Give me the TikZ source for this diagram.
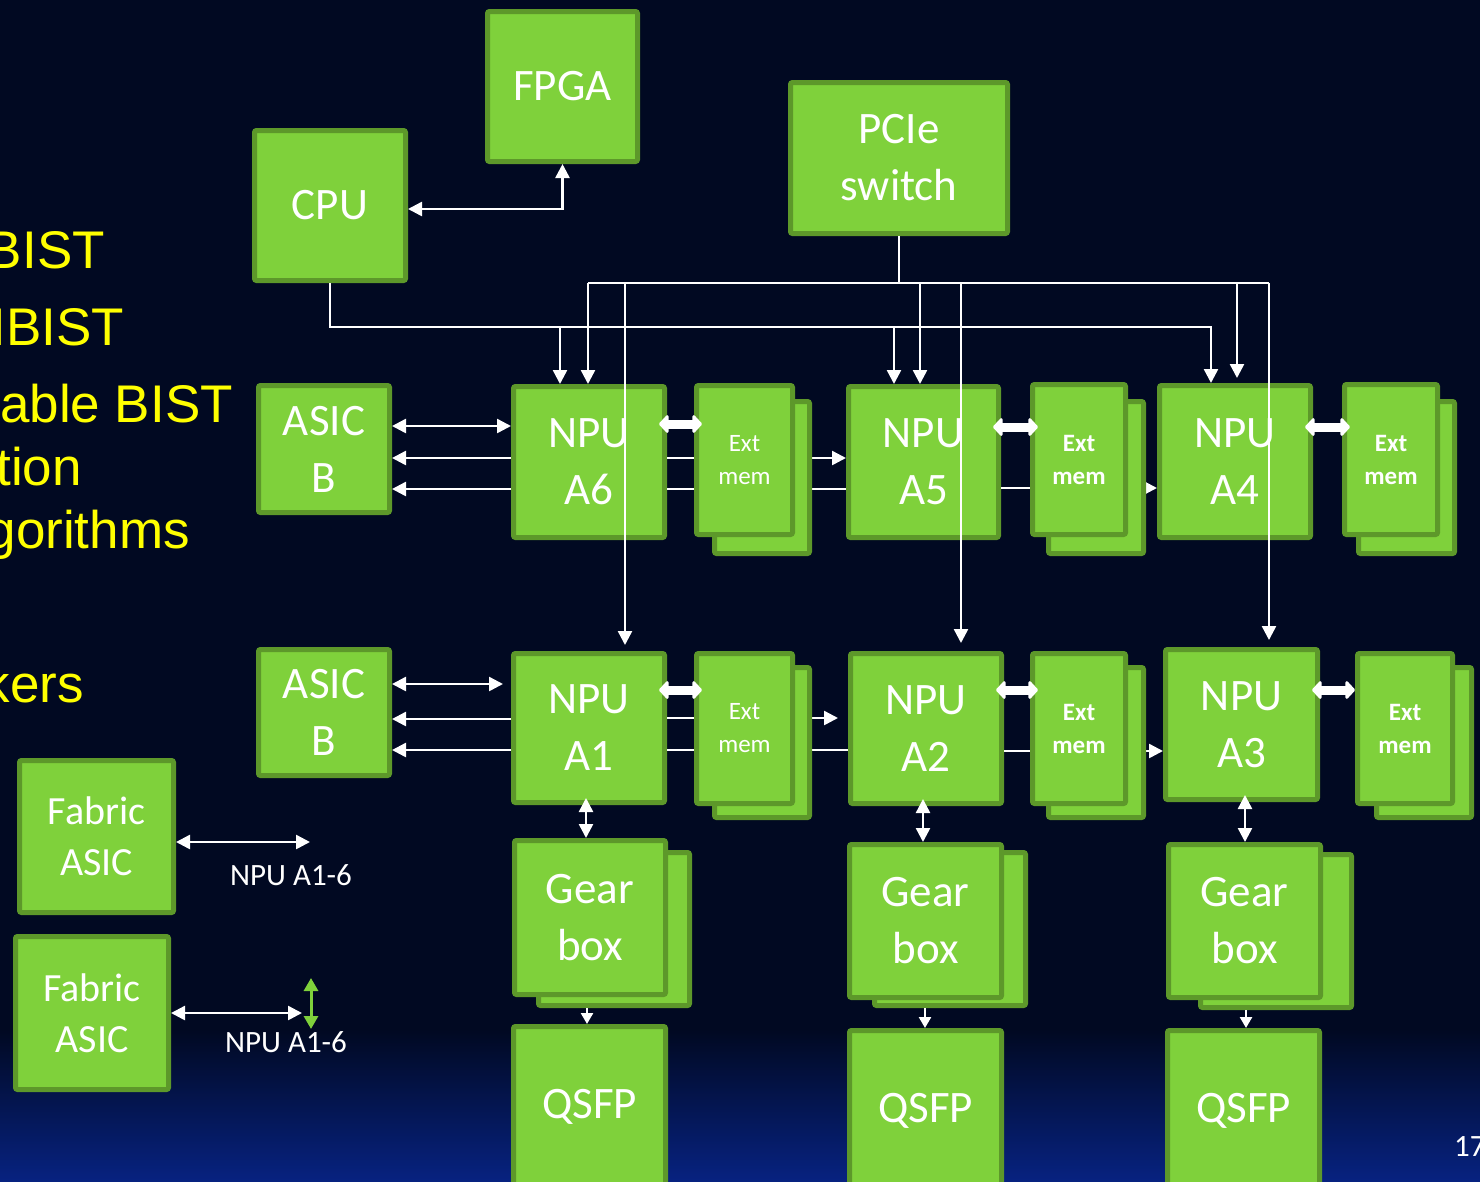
\documentclass[tikz,border=0pt]{standalone}
\usepackage{fontspec}
\setmainfont{Carlito}
\newfontfamily\arialfont{Liberation Sans}
\usetikzlibrary{arrows.meta,calc}

\definecolor{bgnavy}{RGB}{1,9,34}
\definecolor{bgblue}{RGB}{7,34,128}
\definecolor{blkfill}{RGB}{127,209,59}
\definecolor{blkedge}{RGB}{93,152,42}
\definecolor{bistyellow}{RGB}{255,255,0}

\tikzset{
  blk/.style={draw=blkedge, fill=blkfill, line width=5pt, rounded corners=2pt,
    text=white, align=center, inner sep=0pt, font=\fontsize{45}{57}\selectfont},
  sz/.style 2 args={minimum width=#1pt, minimum height=#2pt},
  memreg/.style={font=\fontsize{25}{33}\selectfont},
  membold/.style={font=\fontsize{25}{33}\selectfont\bfseries},
  fabtxt/.style={font=\fontsize{40}{51}\selectfont},
  wire/.style={draw=white, line width=2.5pt},
  fat/.style={draw=white, line width=9pt,
    {Triangle[length=10pt,width=21pt,round]}-{Triangle[length=10pt,width=21pt,round]},
    shorten <=-8pt, shorten >=-8pt},
  smalltip/.style={-{Triangle[length=11pt,width=12pt]}},
  bist/.style={font=\arialfont\fontsize{53}{60}\selectfont, text=bistyellow,
    inner sep=0pt, anchor=base east},
  lbl/.style={font=\fontsize{31}{36}\selectfont, text=white, inner sep=0pt}
}

\begin{document}
\begin{tikzpicture}[x=1pt, y=-1pt, >={Triangle[length=14pt,width=14pt]}]
\useasboundingbox (0,0) rectangle (1480,1181);
% slide background
\fill[bgnavy] (0,0) rectangle (1480,1181);
\shade[top color=bgnavy, bottom color=bgblue] (0,1030) rectangle (1480,1181);

% bullet text running in from the left
\node[bist] (b1) at (105,268) {BIST};
\node[bist] (b2) at (124,345) {IBIST};
\node[bist] (b3) at (233,422) {able BIST};
\node[bist] (b4) at (82,485) {tion};
\node[bist] (b5) at (190,548) {gorithms};
\node[bist] (b6) at (84,702) {kers};

% host side
\node[blk, sz={150}{150}] (fpga) at (562.5,86.5) {FPGA};
\node[blk, sz={151}{150}] (cpu) at (330,205.5) {CPU};
\node[blk, sz={217}{151}] (pcie) at (899,158) {PCIe\\switch};

% ASICs
\node[blk, sz={131}{127}] (asict) at (324,449) {ASIC\\B};
\node[blk, sz={131}{126}] (asicb) at (324,712.5) {ASIC\\B};
\node[blk, fabtxt, sz={154}{152}] (fab1) at (96.5,836.5) {Fabric\\ASIC};
\node[blk, fabtxt, sz={153}{153}] (fab2) at (92,1013) {Fabric\\ASIC};

% NPUs
\node[blk, sz={151}{151}] (a6) at (589,462) {NPU\\A6};
\node[blk, sz={150}{151}] (a5) at (923.5,462) {NPU\\A5};
\node[blk, sz={151}{152}] (a4) at (1235,461.5) {NPU\\A4};
\node[blk, sz={151}{149}] (a1) at (589,728) {NPU\\A1};
\node[blk, sz={151}{150}] (a2) at (926,728.5) {NPU\\A2};
\node[blk, sz={152}{150}] (a3) at (1241.5,724.5) {NPU\\A3};

% gearboxes (stacked pairs) and QSFP cages
\node[blk, sz={151}{153}] (g1b) at (614,929) {};
\node[blk, sz={151}{154}] (g1) at (590,917.5) {Gear\\box};
\node[blk, sz={151}{153}] (g2b) at (950,929) {};
\node[blk, sz={152}{153}] (g2) at (925.5,921) {Gear\\box};
\node[blk, sz={151}{153}] (g3b) at (1276,931) {};
\node[blk, sz={152}{153}] (g3) at (1244.5,921) {Gear\\box};
\node[blk, sz={152}{161}] (q1) at (589.5,1107) {QSFP};
\node[blk, sz={152}{160}] (q2) at (925.5,1110.5) {QSFP};
\node[blk, sz={152}{160}] (q3) at (1243.5,1110.5) {QSFP};

% NPU chain links (pass behind the external memories)
\draw[wire,->] (a6.east |- 0,458) -- (a5.west |- 0,458);
\draw[wire] (a6.east |- 0,489) -- (a5.west |- 0,489);
\draw[wire,->] (a5.east |- 0,488) -- (a4.west |- 0,488);
\draw[wire,->,shorten >=10pt] (a1.east |- 0,718) -- (a2.west |- 0,718);
\draw[wire] (a1.east |- 0,750) -- (a2.west |- 0,750);
\draw[wire,->] (a2.east |- 0,751) -- (a3.west |- 0,751);

% external memories (stacked pairs)
\node[blk, memreg, sz={95}{152}] (m6b) at (762,477.5) {};
\node[blk, memreg, sz={96}{149}] (m6) at (744.5,460) {Ext\\mem};
\node[blk, membold, sz={95}{152}] (m5b) at (1096,477.5) {};
\node[blk, membold, sz={93}{150}] (m5) at (1079,459.5) {Ext\\mem};
\node[blk, membold, sz={96}{152}] (m4b) at (1406.5,477.5) {};
\node[blk, membold, sz={93}{150}] (m4) at (1391,459.5) {Ext\\mem};
\node[blk, memreg, sz={95}{150}] (m1b) at (762,742.5) {};
\node[blk, memreg, sz={96}{150}] (m1) at (744.5,728.5) {Ext\\mem};
\node[blk, membold, sz={95}{150}] (m2b) at (1096,742.5) {};
\node[blk, membold, sz={93}{150}] (m2) at (1079,728.5) {Ext\\mem};
\node[blk, membold, sz={95}{150}] (m3b) at (1424,742.5) {};
\node[blk, membold, sz={95}{150}] (m3) at (1405,728.5) {Ext\\mem};

% NPU <-> external memory
\draw[fat] (a6.east |- 0,424) -- (m6.west |- 0,424);
\draw[fat] (a5.east |- 0,427) -- (m5.west |- 0,427);
\draw[fat] (a4.east |- 0,427) -- (m4.west |- 0,427);
\draw[fat] (a1.east |- 0,690) -- (m1.west |- 0,690);
\draw[fat] (a2.east |- 0,690) -- (m2.west |- 0,690);
\draw[fat, shorten >=0pt] (a3.east |- 0,690) -- (m3.west |- 0,690);

% CPU <-> FPGA
\draw[wire,<->] (cpu.east |- 0,209) -| (fpga.south);

% CPU bus to the upper NPUs
\draw[wire,->] (cpu.south) |- (1211,327) -- (a4.north -| 1211,0);
\draw[wire,->] (560,327) -- (a6.north -| 560,0);
\draw[wire,->] (894,327) -- (a5.north -| 894,0);

% PCIe switch fan-out
\draw[wire] (pcie.south) -- (pcie.south |- 0,283);
\draw[wire] (588,283) -- (1269,283);
\draw[wire,->] (588,283) -- (a6.north -| 588,0);
\draw[wire,->] (920,283) -- (a5.north -| 920,0);
\draw[wire,->,shorten >=5pt] (1237,283) -- (a4.north -| 1237,0);
\draw[wire,->,shorten >=6pt] (625,283) -- (a1.north -| 625,0);
\draw[wire,->,shorten >=8pt] (961,283) -- (a2.north -| 961,0);
\draw[wire,->,shorten >=7pt] (1269,283) -- (a3.north -| 1269,0);

% ASIC B links
\draw[wire,<->] (asict.east |- 0,426) -- (a6.west |- 0,426);
\draw[wire,<-] (asict.east |- 0,458) -- (a6.west |- 0,458);
\draw[wire,<-] (asict.east |- 0,489) -- (a6.west |- 0,489);
\draw[wire,<->,shorten >=8pt] (asicb.east |- 0,684) -- (a1.west |- 0,684);
\draw[wire,<-] (asicb.east |- 0,719) -- (a1.west |- 0,719);
\draw[wire,<-] (asicb.east |- 0,750) -- (a1.west |- 0,750);

% NPU <-> gearbox, gearbox -> QSFP
\draw[wire,<->,shorten <=-7pt] (a1.south -| 586,0) -- (g1.north -| 586,0);
\draw[wire,<->,shorten <=-7pt] (a2.south -| 923,0) -- (g2.north -| 923,0);
\draw[wire,<->,shorten <=-7pt] (a3.south -| 1245,0) -- (g3.north -| 1245,0);
\draw[wire,smalltip] (g1b.south -| 587,0) -- (q1.north -| 587,0);
\draw[wire,smalltip] (g2b.south -| 925,0) -- (q2.north -| 925,0);
\draw[wire,smalltip] (g3b.south -| 1246,0) -- (q3.north -| 1246,0);

% fabric ASIC links
\coordinate (f1end) at (310,842);
\coordinate (f2end) at (302,1013);
\coordinate (gtop) at (311,978);
\coordinate (gbot) at (311,1029);
\draw[wire,<->] (fab1.east |- f1end) -- (f1end);
\draw[wire,<->] (fab2.east |- f2end) -- (f2end);
\draw[draw=blkfill, line width=3pt, {Triangle[length=13pt,width=14pt]}-{Triangle[length=13pt,width=14pt]}] (gtop) -- (gbot);
\node[lbl, anchor=base] (l1) at (291,885) {NPU A1-6};
\node[lbl, anchor=base] (l2) at (286,1052) {NPU A1-6};

% page number
\node[lbl, anchor=base west] (pg) at (1454,1156) {17};
\end{tikzpicture}
\end{document}
